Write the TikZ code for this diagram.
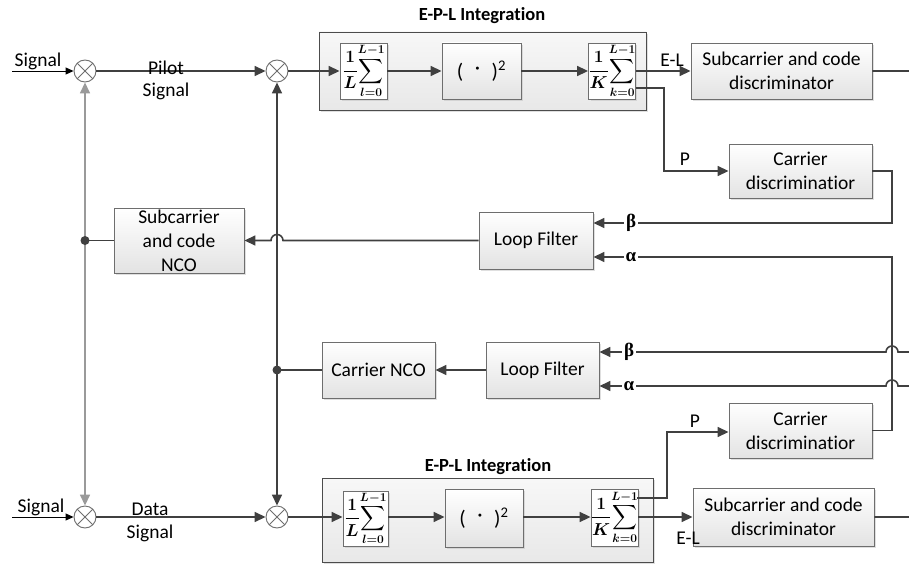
\documentclass[tikz,border=0pt]{standalone}
\usepackage{fontspec}
\setmainfont{Carlito}[Ligatures=NoCommon]
\newfontfamily\grk{Liberation Serif}
\usepackage{amsmath}
\usetikzlibrary{arrows.meta,shadows,calc}
\definecolor{lc}{HTML}{404040}
\definecolor{bc}{HTML}{6E6E6E}
\definecolor{gl}{HTML}{9A9A9A}
\newcommand{\mysumL}{{\fontsize{16.5}{18}\selectfont\boldmath$\displaystyle\frac{1}{L}\!\sum_{l=0}^{L-1}$}}
\newcommand{\mysumK}{{\fontsize{16.5}{18}\selectfont\boldmath$\displaystyle\frac{1}{K}\!\sum_{k=0}^{L-1}$}}
\newcommand{\mysq}{{\fontsize{21}{24}\selectfont(\hspace{0.55em}\raisebox{0.35ex}{·}\hspace{0.55em})\textsuperscript{2}}}
\begin{document}
\begin{tikzpicture}[x=1pt,y=-1pt,
  font=\fontsize{19.5}{24}\selectfont,
  ln/.style={draw=lc, line width=1.6pt},
  gln/.style={draw=gl, line width=1.6pt},
  thin/.style={draw=black, line width=0.9pt},
  arr/.style={-{Triangle[length=11pt,width=10pt]}},
  sarr/.style={-{Triangle[length=8pt,width=7pt]}},
  blk/.style={draw=bc, line width=0.9pt, top color=white, bottom color=black!11,
    drop shadow={shadow xshift=2pt,shadow yshift=-2pt,fill=black!25,opacity=0.5},
    align=center, inner sep=0pt},
  outer/.style={draw=black!70, line width=0.9pt, top color=black!3, bottom color=black!9,
    drop shadow={shadow xshift=2pt,shadow yshift=-2pt,fill=black!25,opacity=0.5}, inner sep=0pt},
  fbox/.style={draw=bc, line width=0.9pt, fill=white,
    drop shadow={shadow xshift=2pt,shadow yshift=-2pt,fill=black!25,opacity=0.5}, inner sep=0pt},
  mix/.style={circle, draw=bc, line width=0.9pt, fill=white, minimum size=22pt, inner sep=0pt,
    path picture={\draw[bc,line width=0.8pt] (path picture bounding box.north west)--(path picture bounding box.south east) (path picture bounding box.north east)--(path picture bounding box.south west);}},
  lbl/.style={inner sep=1pt},
  gk/.style={inner sep=2pt, fill=white, font=\grk\fontsize{19}{22}\selectfont\bfseries},
  ttl/.style={font=\fontsize{18.5}{22}\selectfont\bfseries}
]
\useasboundingbox (0,0) rectangle (909,564);

% ---------------- top branch ----------------
\node[outer, minimum width=327pt, minimum height=78pt] (epl1) at (482.5,71) {};
\node[ttl] (t1) at (482,16) {E-P-L Integration};
\node[fbox, minimum width=47pt, minimum height=56pt] (sumL1) at (363.5,71) {\mysumL};
\node[blk, minimum width=79pt, minimum height=56pt] (sq1) at (481.5,71) {\mysq};
\node[fbox, minimum width=46pt, minimum height=56pt] (sumK1) at (612,71) {\mysumK};
\node[blk, minimum width=181pt, minimum height=56pt] (sd1) at (781.5,71) {Subcarrier and code\\discriminator};
\node[blk, minimum width=143pt, minimum height=54pt] (cd1) at (800.5,171) {Carrier\\discriminatior};

\node[mix] (m1) at (85,71) {};
\node[mix] (m2) at (277,71) {};
\coordinate (in1) at (12,71);

% ---------------- middle ----------------
\node[blk, minimum width=114pt, minimum height=57pt] (lf1) at (536,240.5) {Loop Filter};
\node[blk, minimum width=130pt, minimum height=65pt] (nco1) at (179,240.5) {Subcarrier\\and code\\NCO};
\node[blk, minimum width=113pt, minimum height=56pt] (lf2) at (542.5,370) {Loop Filter};
\node[blk, minimum width=113pt, minimum height=56pt] (cnco) at (378.5,370) {Carrier NCO};

% ---------------- bottom branch ----------------
\node[outer, minimum width=331pt, minimum height=84pt] (epl2) at (487.5,520) {};
\node[ttl] (t2) at (488,467) {E-P-L Integration};
\node[fbox, minimum width=45pt, minimum height=55pt] (sumL2) at (365.5,518.5) {\mysumL};
\node[blk, minimum width=78pt, minimum height=58pt] (sq2) at (484,518) {\mysq};
\node[fbox, minimum width=45pt, minimum height=57pt] (sumK2) at (614.5,517.5) {\mysumK};
\node[blk, minimum width=181pt, minimum height=58pt] (sd2) at (783.5,517) {Subcarrier and code\\discriminator};
\node[blk, minimum width=143pt, minimum height=55pt] (cd2) at (800.5,430.5) {Carrier\\discriminatior};

\node[mix] (m3) at (85,517) {};
\node[mix] (m4) at (277,517) {};
\coordinate (in2) at (12,517);

% ---------------- junction coordinates ----------------
\coordinate (d1) at (nco1.west -| m1);
\coordinate (d2) at (cnco.west -| m2);

% ---------------- connectors: top ----------------
\draw[thin,sarr] (in1) -- (m1.west);
\node[lbl] (s1) at (38,61) {Signal};
\draw[ln,arr] (m1.east) -- (m2.west);
\node[lbl] (p1) at (166,68) {Pilot};
\node[lbl] (p2) at (166,91) {Signal};
\draw[ln,arr] (m2.east) -- (sumL1.west);
\draw[ln,arr] (sumL1.east) -- (sq1.west);
\draw[ln,arr] (sq1.east) -- (sumK1.west);
\draw[ln,arr] (sumK1.east) -- (sd1.west);
\node[lbl] (el1) at (672,60) {E-L};
\draw[ln,arr] ($(sumK1.east)+(0,17)$) -- (664,88) -- (664,171) -- (cd1.west);
\node[lbl] (pp1) at (685,159) {P};

% carrier discriminator 1 -> loop filter 1 beta
\draw[ln,arr] (cd1.east) -- (892,171) -- (892,223) -- ($(lf1.east)+(0,-17.5)$);
\node[gk] (b1) at (631,223) {β};
% carrier discriminator 2 -> loop filter 1 alpha
\draw[ln,arr] (cd2.east) -- (892,430.5) -- (892,257) -- ($(lf1.east)+(0,16.5)$);
\node[gk] (a1) at (631,257) {α};
% subcarrier discriminator 1 -> loop filter 2 beta
\draw[ln,arr] (sd1.east) -- (910,71) -- (910,352) -- (898,352)
   arc[start angle=0,end angle=180,radius=6pt] -- ($(lf2.east)+(0,-18)$);
\node[gk] (b2) at (629,352) {β};
% subcarrier discriminator 2 -> loop filter 2 alpha
\draw[ln,arr] (sd2.east) -- (910,517) -- (910,386) -- (898,386)
   arc[start angle=0,end angle=180,radius=6pt] -- ($(lf2.east)+(0,16)$);
\node[gk] (a2) at (629,386) {α};

% loop filter 1 -> subcarrier NCO (hop over x=277)
\draw[ln,arr] (lf1.west) -- ($(lf1.west -| m2)+(6pt,0)$)
   arc[start angle=0,end angle=180,radius=6pt] -- (nco1.east);
\draw[ln] (nco1.west) -- (d1);
\draw[gln,arr] (d1) -- (m1.south);
\draw[gln,arr] (d1) -- (m3.north);
\fill[lc] (d1) circle (4.5pt);

% loop filter 2 -> carrier NCO
\draw[ln,arr] (lf2.west) -- (cnco.east);
\draw[ln] (cnco.west) -- (d2);
\draw[ln,arr] (d2) -- (m2.south);
\draw[ln,arr] (d2) -- (m4.north);
\fill[lc] (d2) circle (4.5pt);

% ---------------- connectors: bottom ----------------
\draw[thin,sarr] (in2) -- (m3.west);
\node[lbl] (s2) at (41,507) {Signal};
\draw[ln,arr] (m3.east) -- (m4.west);
\node[lbl] (q1) at (150,509) {Data};
\node[lbl] (q2) at (150,533) {Signal};
\draw[ln,arr] (m4.east) -- (m4.east -| sumL2.west);
\draw[ln,arr] (m4.east -| sumL2.east) -- (m4.east -| sq2.west);
\draw[ln,arr] (m4.east -| sq2.east) -- (m4.east -| sumK2.west);
\draw[ln,arr] (m4.east -| sumK2.east) -- (sd2.west);
\node[lbl] (el2) at (688,538) {E-L};
\draw[ln,arr] (637,498) -- (667,498) -- (667,432) -- (cd2.west |- 0,432);
\node[lbl] (pp2) at (695,421) {P};
\end{tikzpicture}
\end{document}
